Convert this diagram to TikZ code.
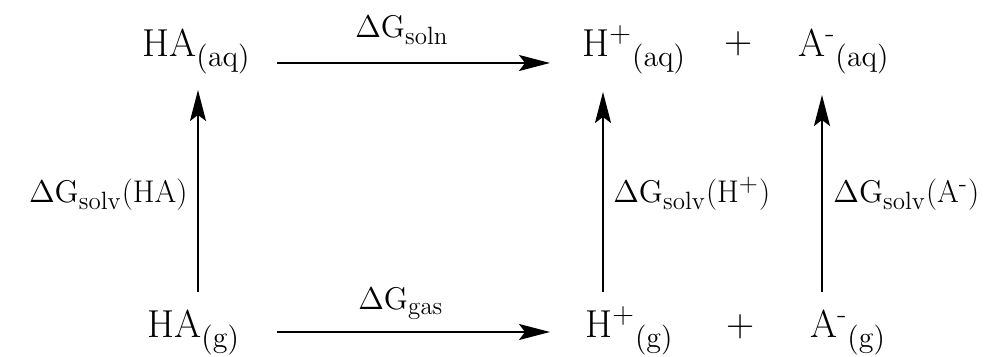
\documentclass[tikz,border=0pt]{standalone}
\usepackage{fix-cm}
\usetikzlibrary{arrows.meta}
\DeclareMathSizes{19.5}{19.5}{15}{11}
\DeclareMathSizes{15.7}{15.7}{12.5}{9}

\tikzset{
  species/.style={inner sep=0pt, anchor=base west, font=\fontsize{19.5}{23}\selectfont},
  dglabel/.style={inner sep=0pt, font=\fontsize{15.7}{19}\selectfont},
  rxn/.style={line width=1pt, -{Stealth[length=15.5pt, width=8pt, inset=3pt]}},
}

\begin{document}
\begin{tikzpicture}[x=0.5pt, y=-0.5pt]
\useasboundingbox (0,0) rectangle (996,357);

% Aqueous phase
\node[species] (haaq) at (142,57) {HA$_{\mathrm{(aq)}}$};
\node[species] (hpaq) at (582,57) {H\textsuperscript{+}$_{\mathrm{(aq)}}$};
\node[species, anchor=center] (plusaq) at (739,44) {+};
\node[species] (amaq) at (798,57) {A\textsuperscript{-}$_{\mathrm{(aq)}}$};

% Gas phase
\node[species] (hag) at (147,338) {HA$_{\mathrm{(g)}}$};
\node[species] (hpg) at (585,338) {H\textsuperscript{+}$_{\mathrm{(g)}}$};
\node[species, anchor=center] (plusg) at (741,327) {+};
\node[species] (amg) at (810,338) {A\textsuperscript{-}$_{\mathrm{(g)}}$};

% Reactions
\draw[rxn] ([shift={(135,6)}]haaq.base west) -- ([shift={(-32,6)}]hpaq.base west);
\draw[rxn] ([shift={(130,-6)}]hag.base west) -- ([shift={(-35,-6)}]hpg.base west);

% Solvation
\draw[rxn] ([shift={(51,-46)}]hag.base west) -- ([shift={(56,33)}]haaq.base west);
\draw[rxn] ([shift={(18,-46)}]hpg.base west) -- ([shift={(21,35)}]hpaq.base west);
\draw[rxn] ([shift={(12,-46)}]amg.base west) -- ([shift={(24,38)}]amaq.base west);

% Labels
\node[dglabel, anchor=base west] (gsoln) at (355,38) {$\Delta\mathrm{G}_{\mathrm{soln}}$};
\node[dglabel, anchor=base west] (ggas) at (358,310) {$\Delta\mathrm{G}_{\mathrm{gas}}$};
\node[dglabel, anchor=base east] (gsolvha) at (188,203) {$\Delta\mathrm{G}_{\mathrm{solv}}$(HA)};
\node[dglabel, anchor=base west] (gsolvh) at (613,203) {$\Delta\mathrm{G}_{\mathrm{solv}}$(H\textsuperscript{+})};
\node[dglabel, anchor=base west] (gsolva) at (833,203) {$\Delta\mathrm{G}_{\mathrm{solv}}$(A\textsuperscript{-})};

\end{tikzpicture}
\end{document}
